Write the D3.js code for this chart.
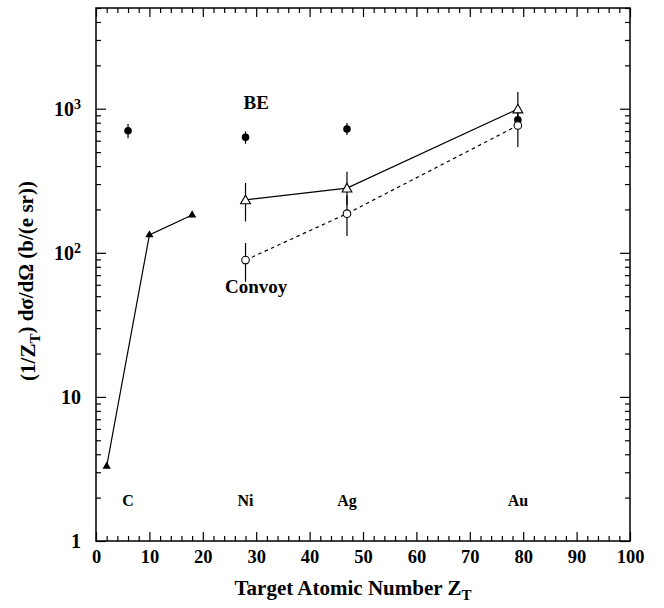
<!DOCTYPE html>
<html>
<head>
<meta charset="utf-8">
<script src="https://cdn.jsdelivr.net/npm/d3@7"></script>
<style>
  body { margin: 0; background: #fff; }
</style>
</head>
<body>
<div id="vis"></div>
<script>
// data
const triFilledZ = [2, 10, 18];
const triFilledY = [3.3, 133, 183];

const beZ = [6, 28, 47, 79];
const beY = [703, 633, 723, 839];
const beLo = [625, 571, 657, 780];
const beHi = [783, 695, 796, 900];

const triOpenZ = [28, 47, 79];
const triOpenY = [233, 281, 995];
const triOpenLo = [165, 215, 760];
const triOpenHi = [305, 365, 1306];

const circOpenZ = [28, 47, 79];
const circOpenY = [89, 187, 766];
const circOpenLo = [63, 131, 542];
const circOpenHi = [117, 250, 1000];

const elementNames = ["C", "Ni", "Ag", "Au"];
const elementZ = [6, 28, 47, 79];

const xTicks = [0, 10, 20, 30, 40, 50, 60, 70, 80, 90, 100];
const yTicks = [1, 10, 100, 1000];
const yTickLabels = ["1", "10", "10^2", "10^3"];

const FONT = "'Liberation Serif', 'Times New Roman', Times, serif";

const width = 664, height = 608;
const margin = { top: 8, right: 34, bottom: 67, left: 96 };
const w = width - margin.left - margin.right;
const h = height - margin.top - margin.bottom;

const x = d3.scaleLinear().domain([0, 100]).range([0, w]);
const y = d3.scaleLog().domain([1, 5000]).range([h, 0]);

const svg = d3.select("#vis").append("svg")
    .attr("width", width)
    .attr("height", height)
    .style("font-family", FONT)
    .style("font-weight", "bold");
const g = svg.append("g")
    .attr("transform", `translate(${[margin.left, margin.top]})`);

// minor ticks
const xMinor = d3.range(0, 101, 2).filter(v => v % 10 !== 0);
const yMinor = [];
[1, 10, 100, 1000].forEach(d => { for (let k = 2; k <= 9; k++) if (d * k <= 5000) yMinor.push(d * k); });

function tickAxis(axis, values, size) {
    return axis.tickValues(values).tickSizeInner(-size).tickSizeOuter(0).tickFormat("");
}

g.append("g").attr("transform", `translate(0,${h})`).call(tickAxis(d3.axisBottom(x), xMinor, 5));
g.append("g").call(tickAxis(d3.axisTop(x), xMinor, 5));
g.append("g").call(tickAxis(d3.axisTop(x), xTicks, 9));
g.append("g").call(tickAxis(d3.axisLeft(y), yMinor, 5));
g.append("g").attr("transform", `translate(${w},0)`).call(tickAxis(d3.axisRight(y), yMinor, 5));
g.append("g").attr("transform", `translate(${w},0)`).call(tickAxis(d3.axisRight(y), yTicks, 10));

// labelled axes
const xAxis = g.append("g")
    .attr("transform", `translate(0,${h})`)
    .call(d3.axisBottom(x).tickValues(xTicks).tickSizeInner(-9).tickSizeOuter(0).tickPadding(9));
xAxis.attr("font-family", null).attr("font-size", null);
xAxis.selectAll("text").style("font-size", "18.5px").style("font-family", FONT);

const yAxis = g.append("g")
    .call(d3.axisLeft(y).tickValues(yTicks).tickSizeInner(-10).tickSizeOuter(0).tickPadding(15));
yAxis.attr("font-family", null).attr("font-size", null);
yAxis.selectAll("text")
    .style("font-size", "20px")
    .style("font-family", FONT)
    .each(function (d, i) {
        const parts = yTickLabels[i].split("^");
        const t = d3.select(this).text(parts[0]);
        if (parts[1]) t.append("tspan").attr("dy", "-0.45em").style("font-size", "14px").text(parts[1]);
    });

g.selectAll(".domain").remove();
g.selectAll(".tick line").attr("stroke", "#000").attr("stroke-width", 1.2);

// frame
g.append("rect")
    .attr("width", w).attr("height", h)
    .attr("fill", "none").attr("stroke", "#000").attr("stroke-width", 1.5);

// error bars
function errBars(zs, lo, hi) {
    g.append("g").selectAll("line")
        .data(zs)
        .enter().append("line")
        .attr("x1", d => x(d)).attr("x2", d => x(d))
        .attr("y1", (d, i) => y(lo[i])).attr("y2", (d, i) => y(hi[i]))
        .attr("stroke", "#000").attr("stroke-width", 1.2);
}
errBars(beZ, beLo, beHi);
errBars(triOpenZ, triOpenLo, triOpenHi);
errBars(circOpenZ, circOpenLo, circOpenHi);

// lines
const line = d3.line().x(d => x(d[0])).y(d => y(d[1]));
g.append("path")
    .datum(d3.zip(triFilledZ, triFilledY))
    .attr("d", line).attr("fill", "none").attr("stroke", "#000").attr("stroke-width", 1.2);
g.append("path")
    .datum(d3.zip(triOpenZ, triOpenY))
    .attr("d", line).attr("fill", "none").attr("stroke", "#000").attr("stroke-width", 1.2);
g.append("path")
    .datum(d3.zip(circOpenZ, circOpenY))
    .attr("d", line).attr("fill", "none").attr("stroke", "#000").attr("stroke-width", 1.2)
    .attr("stroke-dasharray", "3.5,3.5");

// markers
const triSmall = d3.symbol().type(d3.symbolTriangle).size(30);
const triBig = d3.symbol().type(d3.symbolTriangle).size(42);

g.append("g").selectAll("path")
    .data(d3.zip(triFilledZ, triFilledY))
    .enter().append("path")
    .attr("d", triSmall)
    .attr("transform", d => `translate(${[x(d[0]), y(d[1])]})`)
    .attr("fill", "#000");

g.append("g").selectAll("circle")
    .data(d3.zip(beZ, beY))
    .enter().append("circle")
    .attr("cx", d => x(d[0])).attr("cy", d => y(d[1]))
    .attr("r", 3.8).attr("fill", "#000");

g.append("g").selectAll("path")
    .data(d3.zip(triOpenZ, triOpenY))
    .enter().append("path")
    .attr("d", triBig)
    .attr("transform", d => `translate(${[x(d[0]), y(d[1]) + 1]})`)
    .attr("fill", "#fff").attr("stroke", "#000").attr("stroke-width", 1.1);

g.append("g").selectAll("circle")
    .data(d3.zip(circOpenZ, circOpenY))
    .enter().append("circle")
    .attr("cx", d => x(d[0])).attr("cy", d => y(d[1]))
    .attr("r", 3.8).attr("fill", "#fff").attr("stroke", "#000").attr("stroke-width", 1.1);

// element labels
g.append("g").selectAll("text")
    .data(elementNames)
    .enter().append("text")
    .attr("x", (d, i) => x(elementZ[i]))
    .attr("y", y(2) + 8)
    .attr("text-anchor", "middle")
    .style("font-size", "16px")
    .text(d => d);

// annotations
g.append("text")
    .attr("x", x(30)).attr("y", 101)
    .attr("text-anchor", "middle")
    .style("font-size", "19px")
    .text("BE");
g.append("text")
    .attr("x", x(30)).attr("y", 285)
    .attr("text-anchor", "middle")
    .style("font-size", "19px")
    .text("Convoy");

// axis titles
const xt = svg.append("text")
    .attr("x", 353).attr("y", 595)
    .attr("text-anchor", "middle")
    .style("font-size", "21px")
    .text("Target Atomic Number Z");
xt.append("tspan").attr("dy", "0.3em").style("font-size", "15px").text("T");

const yt = svg.append("text")
    .attr("transform", "translate(35,281) rotate(-90)")
    .attr("text-anchor", "middle")
    .style("font-size", "21px")
    .text("(1/Z");
yt.append("tspan").attr("dy", "0.3em").style("font-size", "15px").text("T");
yt.append("tspan").attr("dy", "-0.3em").text(") dσ/dΩ (b/(e sr))");
</script>
</body>
</html>
